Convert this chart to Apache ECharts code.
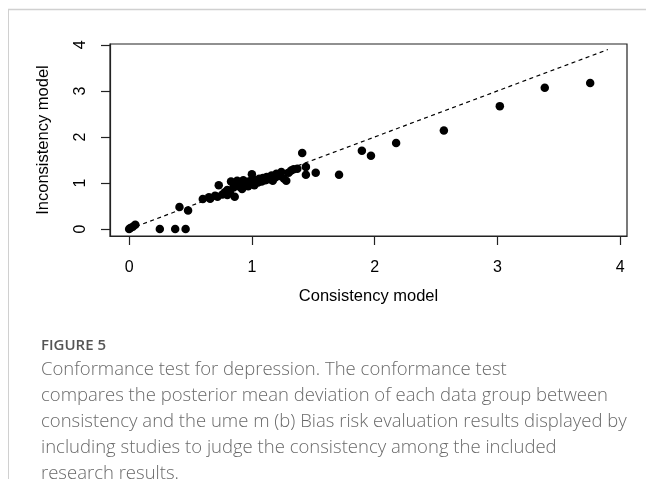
<!DOCTYPE html>
<html>
<head>
<meta charset="utf-8">
<script src="https://cdn.jsdelivr.net/npm/echarts@6/dist/echarts.min.js"></script>
<style>
html,body{margin:0;padding:0;background:#fff;}
#chart{width:646px;height:479px;}
</style>
</head>
<body>
<div id="chart"></div>
<script>
// Consistency model (x) and Inconsistency model (y) values
const consistency = [0, 0.01, 0.03, 0.05, 0.25, 0.375, 0.46, 0.41, 0.48,
  0.6, 0.65, 0.66, 0.7, 0.73, 0.72, 0.76, 0.78, 0.8, 0.8, 0.82, 0.83, 0.85, 0.86, 0.87, 0.88,
  0.9, 0.9, 0.92, 0.93, 0.95, 0.95, 0.97, 0.98, 1.0, 1.0, 1.02, 1.03, 1.05, 1.06, 1.08, 1.09,
  1.11, 1.12, 1.14, 1.16, 1.17, 1.19, 1.2, 1.22, 1.24, 1.26, 1.28, 1.3, 1.32, 1.34, 1.37,
  1.41, 1.44, 1.44, 1.52, 1.71, 1.896, 1.97, 2.175, 2.564, 3.02, 3.386, 3.756];
const inconsistency = [0, 0.02, 0.05, 0.09, 0, 0, 0, 0.48, 0.40,
  0.65, 0.69, 0.66, 0.72, 0.95, 0.7, 0.75, 0.8, 0.74, 0.85, 0.8, 1.03, 0.9, 0.7, 0.98, 1.05,
  0.92, 1.0, 0.87, 1.06, 0.96, 1.02, 0.93, 1.04, 1.0, 1.19, 0.95, 1.06, 1.01, 1.09, 1.03, 1.11,
  1.06, 1.13, 1.08, 1.16, 1.05, 1.12, 1.2, 1.15, 1.24, 1.1, 1.05, 1.22, 1.27, 1.3, 1.31,
  1.65, 1.35, 1.18, 1.22, 1.18, 1.70, 1.59, 1.87, 2.14, 2.67, 3.07, 3.17];
// reference line y = x
const refLineX = [0, 3.9];
const xTicks = [0, 1, 2, 3, 4];
const yTicks = [0, 1, 2, 3, 4];
const xTitle = 'Consistency model';
const yTitle = 'Inconsistency model';
const figLabel = 'FIGURE 5';
const captionLines = [
  'Conformance test for depression. The conformance test',
  'compares the posterior mean deviation of each data group between',
  'consistency and the ume m (b) Bias risk evaluation results displayed by',
  'including studies to judge the consistency among the included',
  'research results.'
];

const points = consistency.map((v, i) => [v, inconsistency[i]]);
const refLine = refLineX.map(v => [v, v]);

const chart = echarts.init(document.getElementById('chart'), null, {renderer: 'canvas'});
const axisFont = 'Liberation Sans, Arial, sans-serif';
chart.setOption({
  animation: false,
  backgroundColor: '#fff',
  grid: {left: 110, top: 44, width: 517, height: 192, show: true, borderColor: '#222', borderWidth: 1.2, backgroundColor: 'transparent'},
  xAxis: {
    type: 'value', min: -0.156, max: 4.056,
    splitLine: {show: false},
    axisLine: {show: true, onZero: false, lineStyle: {color: '#222', width: 1.2}},
    axisTick: {show: true, length: 9, customValues: xTicks, lineStyle: {color: '#222', width: 1.2}},
    axisLabel: {customValues: xTicks, fontSize: 16, color: '#000', fontFamily: axisFont, margin: 24},
    name: xTitle, nameLocation: 'middle', nameGap: 52,
    nameTextStyle: {fontSize: 16.5, color: '#000', fontFamily: axisFont}
  },
  yAxis: {
    type: 'value', min: -0.152, max: 4.02,
    splitLine: {show: false},
    axisLine: {show: true, onZero: false, lineStyle: {color: '#222', width: 1.2}},
    axisTick: {show: true, length: 9, customValues: yTicks, lineStyle: {color: '#222', width: 1.2}},
    axisLabel: {customValues: yTicks, rotate: 90, fontSize: 16, color: '#000', fontFamily: axisFont, margin: 21},
    name: yTitle, nameLocation: 'middle', nameGap: 58, nameRotate: 90,
    nameTextStyle: {fontSize: 16.5, color: '#000', fontFamily: axisFont}
  },
  series: [
    {
      type: 'line', data: refLine, symbol: 'none', silent: true,
      lineStyle: {color: '#000', width: 1.2, type: [4, 3.5]}, z: 1
    },
    {
      type: 'scatter', data: points, symbol: 'circle', symbolSize: 8.5,
      itemStyle: {color: '#000', opacity: 1}, z: 2
    }
  ],
  graphic: [
    {type: 'line', shape: {x1: 8, y1: 9.5, x2: 646, y2: 9.5}, style: {stroke: '#d0d0d0', lineWidth: 1.5}},
    {type: 'line', shape: {x1: 8.5, y1: 9, x2: 8.5, y2: 479}, style: {stroke: '#d0d0d0', lineWidth: 1}},
    {type: 'text', left: 41, top: 338, style: {text: figLabel, fontSize: 15, fontWeight: 600, fill: '#555', fontFamily: 'Open Sans, sans-serif'}},
    {type: 'text', left: 41, top: 357, style: {text: captionLines.join('\n'), fontSize: 18.5, lineHeight: 26, fill: '#6a6a6a', fontWeight: 300, fontFamily: 'Open Sans, sans-serif'}}
  ]
});
</script>
</body>
</html>
